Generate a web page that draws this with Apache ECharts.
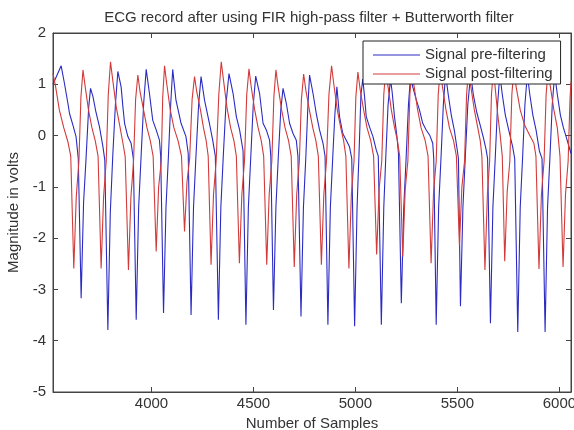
<!DOCTYPE html>
<html>
<head>
<meta charset="utf-8">
<title>ECG record after using FIR high-pass filter + Butterworth filter</title>
<script src="https://cdn.jsdelivr.net/npm/echarts@6/dist/echarts.min.js"></script>
<style>
  html, body { margin: 0; padding: 0; background: #fff; }
  #chart { width: 574px; height: 430px; }
</style>
</head>
<body>
<div id="chart"></div>
<script>
// axis ranges and tick labels
const xRange = [3517, 6057];
const xTicks = [4000, 4500, 5000, 5500, 6000];
const yRange = [-5, 2];
const seriesNames = ['Signal pre-filtering', 'Signal post-filtering'];

// [sample, volts]
const preFiltering = [
  [3517, 1.0], [3557, 1.36], [3573, 1.02], [3590, 0.63], [3598, 0.43], [3615, 0.2], [3630, -0.02], [3641, -0.45],
  [3655, -3.17], [3667, -1.3], [3679, -0.45], [3692, 0.55], [3701, 0.92], [3713, 0.76], [3728, 0.45], [3745, 0.17], [3762, -0.22], [3771, -0.48],
  [3786, -3.79], [3798, -1.5], [3810, -0.4], [3823, 0.6], [3835, 1.25], [3851, 0.95], [3860, 0.55], [3868, 0.24], [3884, -0.02], [3900, -0.15], [3911, -0.45],
  [3925, -3.59], [3937, -1.4], [3949, -0.4], [3962, 0.65], [3974, 1.29], [3990, 0.82], [4006, 0.3], [4023, 0.11], [4039, -0.09], [4045, -0.4],
  [4059, -3.46], [4071, -1.4], [4083, -0.4], [4094, 0.6], [4104, 1.29], [4120, 0.69], [4145, 0.24], [4169, -0.02], [4180, -0.35],
  [4194, -3.5], [4206, -1.4], [4218, -0.4], [4231, 0.6], [4243, 1.15], [4260, 0.69], [4284, 0.24], [4300, -0.09], [4313, -0.4],
  [4328, -3.59], [4340, -1.4], [4352, -0.4], [4365, 0.6], [4380, 1.21], [4400, 0.82], [4416, 0.37], [4432, 0.11], [4449, -0.3],
  [4463, -3.69], [4475, -1.4], [4487, -0.4], [4499, 0.6], [4511, 1.16], [4530, 0.82], [4547, 0.24], [4563, 0.11], [4579, -0.09], [4585, -0.4],
  [4598, -3.4], [4610, -1.4], [4622, -0.4], [4634, 0.5], [4645, 0.92], [4661, 0.63], [4677, 0.24], [4694, 0.04], [4710, -0.09], [4718, -0.4],
  [4733, -3.53], [4745, -1.4], [4757, -0.4], [4766, 0.5], [4775, 1.18], [4792, 0.82], [4808, 0.43], [4824, 0.11], [4841, -0.15], [4851, -0.4],
  [4865, -3.69], [4877, -1.4], [4889, -0.4], [4899, 0.4], [4909, 0.95], [4922, 0.37], [4938, 0.04], [4955, -0.09], [4971, -0.22], [4982, -0.45],
  [4996, -3.72], [5008, -1.4], [5018, -0.3], [5027, 0.8], [5036, 1.1], [5045, 0.75], [5053, 0.37], [5069, 0.17], [5086, -0.02], [5102, -0.28], [5112, -0.4],
  [5127, -3.69], [5139, -1.4], [5149, -0.4], [5160, 0.6], [5172, 1.1], [5180, 0.85], [5192, 0.35], [5203, 0.0], [5211, -0.35],
  [5225, -3.27], [5237, -1.4], [5249, -0.4], [5260, 0.6], [5270, 1.15], [5281, 0.95], [5298, 0.7], [5314, 0.5], [5330, 0.24], [5347, 0.11], [5365, 0.0], [5379, -0.15], [5384, -0.45],
  [5396, -3.69], [5408, -1.4], [5420, -0.4], [5431, 0.6], [5442, 1.2], [5455, 0.8], [5470, 0.4], [5485, 0.1], [5500, -0.3], [5505, -0.45],
  [5515, -3.33], [5527, -1.4], [5539, -0.4], [5551, 0.6], [5565, 1.2], [5578, 0.8], [5595, 0.45], [5612, 0.2], [5628, -0.05], [5641, -0.28], [5648, -0.45],
  [5662, -3.66], [5674, -1.4], [5686, -0.4], [5697, 0.6], [5708, 1.2], [5720, 0.8], [5735, 0.4], [5752, 0.1], [5771, -0.22], [5781, -0.45],
  [5796, -3.83], [5808, -1.4], [5820, -0.4], [5831, 0.6], [5843, 1.2], [5855, 0.8], [5870, 0.4], [5886, 0.1], [5902, -0.3], [5915, -0.45],
  [5930, -3.83], [5942, -1.4], [5954, -0.4], [5965, 0.6], [5977, 1.2], [5990, 0.8], [6005, 0.4], [6020, 0.15], [6033, -0.02], [6057, -0.35]
];

// [sample, volts]
const postFiltering = [
  [3517, 1.21], [3530, 0.95], [3548, 0.5], [3570, 0.15], [3590, -0.12], [3604, -0.4],
  [3619, -2.59], [3631, -1.2], [3644, -0.5], [3654, 0.75], [3664, 1.28], [3675, 0.95], [3691, 0.5], [3708, 0.15], [3724, -0.1], [3738, -0.4],
  [3753, -2.59], [3765, -1.2], [3778, -0.5], [3788, 0.8], [3799, 1.44], [3810, 1.08], [3827, 0.56], [3844, 0.2], [3860, -0.15], [3871, -0.41],
  [3887, -2.62], [3899, -1.2], [3912, -0.5], [3922, 0.7], [3933, 1.18], [3944, 0.85], [3961, 0.5], [3978, 0.15], [3994, -0.1], [4008, -0.4],
  [4023, -2.26], [4035, -1.0], [4048, -0.5], [4055, 0.75], [4064, 1.36], [4075, 1.0], [4092, 0.5], [4110, 0.15], [4130, -0.1], [4147, -0.4],
  [4162, -1.87], [4174, -0.9], [4187, -0.45], [4199, 0.7], [4211, 1.15], [4222, 0.85], [4240, 0.5], [4255, 0.15], [4268, -0.1], [4278, -0.4],
  [4292, -2.52], [4304, -1.15], [4317, -0.5], [4330, 0.8], [4342, 1.44], [4353, 1.08], [4370, 0.55], [4388, 0.15], [4404, -0.1], [4416, -0.4],
  [4431, -2.49], [4443, -1.15], [4456, -0.5], [4467, 0.8], [4478, 1.3], [4489, 0.95], [4506, 0.5], [4523, 0.15], [4538, -0.1], [4550, -0.4],
  [4565, -2.52], [4577, -1.15], [4590, -0.5], [4600, 0.75], [4610, 1.28], [4621, 0.95], [4638, 0.5], [4655, 0.15], [4672, -0.1], [4685, -0.4],
  [4700, -2.56], [4712, -1.15], [4725, -0.5], [4735, 0.7], [4746, 1.2], [4757, 0.88], [4774, 0.5], [4791, 0.15], [4806, -0.1], [4818, -0.4],
  [4833, -2.52], [4845, -1.15], [4858, -0.5], [4870, 0.8], [4883, 1.36], [4894, 1.0], [4911, 0.5], [4928, 0.15], [4942, -0.1], [4953, -0.4],
  [4968, -2.59], [4980, -1.15], [4993, -0.5], [5002, 0.75], [5012, 1.24], [5023, 0.9], [5040, 0.5], [5057, 0.15], [5075, -0.1], [5089, -0.4],
  [5104, -2.32], [5116, -1.05], [5129, -0.5], [5139, 0.8], [5149, 1.3], [5160, 0.95], [5176, 0.5], [5192, 0.15], [5206, -0.1], [5217, -0.4],
  [5232, -2.36], [5244, -1.05], [5257, -0.5], [5267, 0.8], [5277, 1.3], [5288, 0.95], [5305, 0.5], [5322, 0.15], [5342, -0.1], [5356, -0.4],
  [5371, -2.49], [5383, -1.1], [5396, -0.5], [5406, 0.8], [5416, 1.3], [5427, 0.95], [5444, 0.5], [5461, 0.15], [5481, -0.1], [5495, -0.4],
  [5510, -2.15], [5522, -1.0], [5535, -0.5], [5545, 0.8], [5555, 1.3], [5566, 0.95], [5583, 0.5], [5600, 0.15], [5612, -0.1], [5620, -0.4],
  [5635, -2.62], [5647, -1.15], [5658, -0.5], [5667, 0.8], [5677, 1.3], [5686, 0.9], [5698, 0.4], [5710, 0.0], [5720, -0.4],
  [5732, -2.45], [5744, -1.1], [5757, -0.5], [5767, 0.8], [5777, 1.3], [5788, 0.95], [5808, 0.5], [5830, 0.2], [5855, 0.0], [5875, -0.15], [5885, -0.4],
  [5900, -2.6], [5912, -1.15], [5925, -0.5], [5935, 0.8], [5945, 1.3], [5956, 0.95], [5973, 0.5], [5990, 0.15], [6003, -0.4],
  [6018, -2.56], [6030, -1.15], [6043, -0.5], [6052, 0.7], [6057, 1.05]
];

const font = 'Liberation Sans, Arial, sans-serif';
const textColor = '#333';
const frameColor = '#444';

const chart = echarts.init(document.getElementById('chart'), null, { renderer: 'canvas' });

const tickStyle = { show: true, inside: true, length: 5, lineStyle: { color: frameColor } };
const plainNumber = v => String(v);

const option = {
  animation: false,
  backgroundColor: '#fff',
  title: {
    text: 'ECG record after using FIR high-pass filter + Butterworth filter',
    left: 309,
    top: 10,
    padding: 0,
    textAlign: 'center',
    textStyle: { fontFamily: font, fontSize: 15, fontWeight: 'normal', color: textColor }
  },
  legend: {
    data: seriesNames,
    orient: 'vertical',
    left: 363,
    top: 41,
    padding: [6, 8, 2, 10],
    itemGap: 3,
    itemWidth: 47,
    itemHeight: 1,
    icon: 'rect',
    borderColor: '#222',
    borderWidth: 1,
    backgroundColor: '#fff',
    selectedMode: false,
    textStyle: { fontFamily: font, fontSize: 15, color: textColor, lineHeight: 16 }
  },
  grid: {
    left: 53,
    right: 3,
    top: 33,
    bottom: 38,
    show: true,
    borderColor: frameColor,
    borderWidth: 1,
    outerBoundsMode: 'none'
  },
  xAxis: [
    {
      type: 'value',
      position: 'bottom',
      min: xRange[0],
      max: xRange[1],
      name: 'Number of Samples',
      nameLocation: 'middle',
      nameGap: 20,
      nameTextStyle: { fontFamily: font, fontSize: 15, color: textColor },
      axisLine: { show: true, onZero: false, lineStyle: { color: frameColor } },
      axisTick: Object.assign({ customValues: xTicks }, tickStyle),
      axisLabel: { customValues: xTicks, formatter: plainNumber, margin: 4, fontFamily: font, fontSize: 15, color: textColor },
      splitLine: { show: false }
    },
    {
      type: 'value',
      position: 'top',
      min: xRange[0],
      max: xRange[1],
      axisLine: { show: true, onZero: false, lineStyle: { color: frameColor } },
      axisTick: Object.assign({ customValues: xTicks }, tickStyle),
      axisLabel: { show: false },
      splitLine: { show: false }
    }
  ],
  yAxis: [
    {
      type: 'value',
      position: 'left',
      min: yRange[0],
      max: yRange[1],
      interval: 1,
      name: 'Magnitude in volts',
      nameLocation: 'middle',
      nameGap: 30,
      nameTextStyle: { fontFamily: font, fontSize: 15, color: textColor },
      axisLine: { show: true, onZero: false, lineStyle: { color: frameColor } },
      axisTick: tickStyle,
      axisLabel: { formatter: plainNumber, margin: 7, fontFamily: font, fontSize: 15, color: textColor },
      splitLine: { show: false }
    },
    {
      type: 'value',
      position: 'right',
      min: yRange[0],
      max: yRange[1],
      interval: 1,
      axisLine: { show: true, onZero: false, lineStyle: { color: frameColor } },
      axisTick: tickStyle,
      axisLabel: { show: false },
      splitLine: { show: false }
    }
  ],
  series: [
    {
      name: seriesNames[0],
      type: 'line',
      xAxisIndex: 0,
      yAxisIndex: 0,
      data: preFiltering,
      symbol: 'none',
      showSymbol: false,
      lineStyle: { width: 1.1, color: '#2b2bc4' },
      itemStyle: { color: '#2b2bc4' }
    },
    {
      name: seriesNames[1],
      type: 'line',
      xAxisIndex: 0,
      yAxisIndex: 0,
      data: postFiltering,
      symbol: 'none',
      showSymbol: false,
      lineStyle: { width: 1.1, color: '#d33a3a' },
      itemStyle: { color: '#d33a3a' }
    }
  ]
};

chart.setOption(option);
window.addEventListener('resize', chart.resize);
</script>
</body>
</html>
